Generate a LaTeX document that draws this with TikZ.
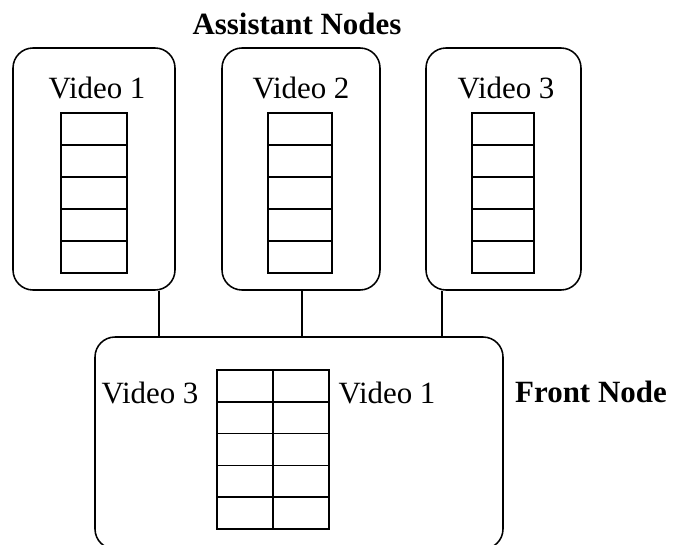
\documentclass[tikz,border=0pt]{standalone}
\usepackage{fontspec}
\setmainfont{Liberation Serif}
\usetikzlibrary{fit}
\tikzset{
  hostbox/.style={draw, line width=1.1pt, rounded corners=0.5cm, inner sep=0pt},
  buf/.style={draw, line width=1.1pt, inner sep=0pt},
  link/.style={line width=0.9pt},
  lbl/.style={font=\fontsize{22}{26}\selectfont, inner sep=0pt},
}
\begin{document}
\begin{tikzpicture}[x=0.025cm,y=-0.025cm]
\useasboundingbox (0,0) rectangle (675,544);
% assistant nodes
\node[hostbox, fit={(13,48) (175,290)}] (a1) {};
\node[hostbox, fit={(222,48) (380,290)}] (a2) {};
\node[hostbox, fit={(426,48) (581,290)}] (a3) {};
\node[hostbox, fit={(95,337) (503,549)}] (front) {};
\node[lbl, font=\fontsize{22}{26}\selectfont\bfseries] (title) at (297,24) {Assistant Nodes};
\node[lbl] (v1) at (97,88) {Video 1};
\node[lbl] (v2) at (301,88) {Video 2};
\node[lbl] (v3) at (506,88) {Video 3};
% buffers
\foreach \s/\l/\r in {s1/61/127, s2/268/332, s3/472/534}{
	\node[buf, fit={(\l,113) (\r,273)}] (\s) {};
	\foreach \k in {1,...,4}
		\draw[buf] (\l,113+32*\k) -- (\r,113+32*\k);
	}
% front node
\node[buf, fit={(217,370) (329,529)}] (fs) {};
\draw[buf] (fs.north) -- (fs.south);
\foreach \k in {1,...,4}
	\draw[buf] (217,370+31.8*\k) -- (329,370+31.8*\k);
\node[lbl] (f3) at (150,393) {Video 3};
\node[lbl] (f1) at (387,393) {Video 1};
\node[lbl, font=\fontsize{22}{26}\selectfont\bfseries] (fname) at (591,392) {Front Node};
% links
\coordinate (k1) at (159,0);
\coordinate (k2) at (302,0);
\coordinate (k3) at (442,0);
\foreach \i in {1,2,3}
	\draw[link] (a\i.south -| k\i) -- (front.north -| k\i);
\end{tikzpicture}
\end{document}
